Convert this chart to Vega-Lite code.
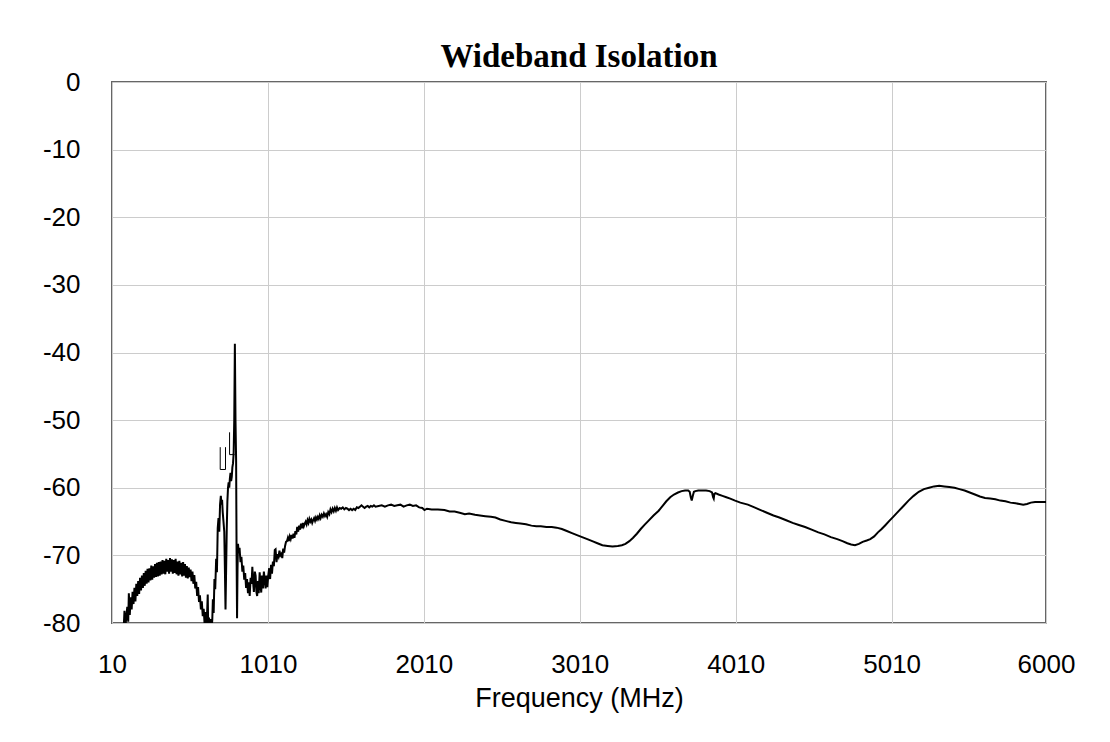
{
  "$schema": "https://vega.github.io/schema/vega-lite/v6.json",
  "width": 934,
  "height": 541,
  "autosize": {"type": "none"},
  "padding": {"left": 112, "top": 82, "right": 64, "bottom": 119},
  "background": "white",
  "title": {
    "text": "Wideband Isolation",
    "font": "Liberation Serif",
    "fontSize": 33,
    "fontWeight": "bold",
    "color": "black",
    "anchor": "middle",
    "frame": "group",
    "baseline": "alphabetic",
    "offset": 4,
    "dy": 35
  },
  "config": {
    "view": {"stroke": "#666666", "strokeWidth": 2},
    "axis": {
      "grid": true,
      "gridColor": "#cccccc",
      "gridWidth": 1,
      "domain": false,
      "ticks": false,
      "tickSize": 0,
      "labelFont": "Liberation Sans",
      "labelFontSize": 26,
      "labelColor": "black",
      "labelExpr": "'' + datum.value",
      "titleFont": "Liberation Sans",
      "titleFontSize": 27,
      "titleFontWeight": "normal",
      "titleColor": "black"
    }
  },
  "datasets": {
    "main": [
      {"f":85,"db":-80.8},{"f":90,"db":-78.2},{"f":96,"db":-80.6},{"f":102,"db":-79.0},{"f":108,"db":-77.6},{"f":114,"db":-79.8},{"f":118,"db":-75.6},{"f":124,"db":-78.8},{"f":130,"db":-76.2},{"f":136,"db":-78.0},{"f":142,"db":-75.4},{"f":148,"db":-77.2},{"f":154,"db":-74.8},{"f":160,"db":-76.8},{"f":166,"db":-74.2},{"f":172,"db":-76.0},{"f":178,"db":-73.8},{"f":184,"db":-75.7},{"f":190,"db":-73.3},{"f":196,"db":-75.2},{"f":202,"db":-73.0},{"f":208,"db":-74.8},{"f":214,"db":-72.6},{"f":220,"db":-74.5},{"f":226,"db":-72.3},{"f":232,"db":-74.2},{"f":238,"db":-72.0},{"f":244,"db":-74.0},{"f":250,"db":-71.9},{"f":256,"db":-73.7},{"f":262,"db":-71.5},{"f":268,"db":-73.6},{"f":274,"db":-71.6},{"f":280,"db":-73.3},{"f":286,"db":-71.3},{"f":292,"db":-73.2},{"f":298,"db":-71.1},{"f":304,"db":-73.1},{"f":310,"db":-71.0},{"f":316,"db":-73.0},{"f":322,"db":-70.9},{"f":328,"db":-72.8},{"f":334,"db":-70.7},{"f":340,"db":-72.7},{"f":346,"db":-70.8},{"f":352,"db":-72.8},{"f":358,"db":-70.5},{"f":364,"db":-72.4},{"f":370,"db":-70.7},{"f":376,"db":-72.7},{"f":382,"db":-70.4},{"f":388,"db":-72.4},{"f":394,"db":-70.6},{"f":400,"db":-72.7},{"f":406,"db":-70.7},{"f":412,"db":-72.6},{"f":418,"db":-70.5},{"f":424,"db":-72.8},{"f":430,"db":-70.9},{"f":436,"db":-73.0},{"f":442,"db":-70.8},{"f":448,"db":-72.8},{"f":454,"db":-71.1},{"f":460,"db":-73.1},{"f":466,"db":-71.0},{"f":472,"db":-73.0},{"f":478,"db":-71.3},{"f":484,"db":-73.3},{"f":490,"db":-71.6},{"f":496,"db":-73.4},{"f":502,"db":-71.8},{"f":508,"db":-73.2},{"f":514,"db":-72.1},{"f":520,"db":-73.8},{"f":526,"db":-72.4},{"f":532,"db":-74.2},{"f":538,"db":-72.9},{"f":544,"db":-74.9},{"f":550,"db":-73.9},{"f":556,"db":-76.0},{"f":562,"db":-74.7},{"f":568,"db":-76.9},{"f":574,"db":-75.9},{"f":580,"db":-78.0},{"f":586,"db":-76.8},{"f":592,"db":-79.0},{"f":598,"db":-77.9},{"f":604,"db":-80.2},{"f":610,"db":-78.4},{"f":616,"db":-80.8},{"f":620,"db":-78.5},{"f":624,"db":-75.8},{"f":627,"db":-80.8},{"f":632,"db":-79.2},{"f":638,"db":-81.0},{"f":642,"db":-79.4},{"f":648,"db":-81.0},{"f":653,"db":-79.6},{"f":657,"db":-76.5},{"f":662,"db":-78.5},{"f":667,"db":-73.5},{"f":672,"db":-75.0},{"f":678,"db":-70.5},{"f":683,"db":-72.5},{"f":688,"db":-66.0},{"f":693,"db":-64.5},{"f":698,"db":-66.5},{"f":703,"db":-62.5},{"f":708,"db":-61.2},{"f":712,"db":-62.5},{"f":716,"db":-61.8},{"f":720,"db":-63.6},{"f":725,"db":-65.0},{"f":730,"db":-66.5},{"f":734,"db":-72.0},{"f":738,"db":-78.0},{"f":742,"db":-72.0},{"f":746,"db":-66.0},{"f":750,"db":-62.0},{"f":754,"db":-60.0},{"f":758,"db":-59.2},{"f":762,"db":-60.0},{"f":766,"db":-58.6},{"f":770,"db":-57.8},{"f":774,"db":-59.0},{"f":778,"db":-58.4},{"f":782,"db":-57.0},{"f":786,"db":-56.4},{"f":790,"db":-55.0},{"f":794,"db":-50.0},{"f":798,"db":-38.7},{"f":802,"db":-50.0},{"f":806,"db":-56.0},{"f":809,"db":-70.0},{"f":812,"db":-79.3},{"f":815,"db":-72.0},{"f":818,"db":-68.3},{"f":823,"db":-69.6},{"f":828,"db":-68.9},{"f":834,"db":-71.0},{"f":840,"db":-70.2},{"f":846,"db":-72.4},{"f":852,"db":-71.5},{"f":858,"db":-73.6},{"f":864,"db":-72.6},{"f":870,"db":-74.8},{"f":876,"db":-73.5},{"f":882,"db":-75.6},{"f":888,"db":-74.0},{"f":893,"db":-76.0},{"f":899,"db":-73.3},{"f":905,"db":-74.2},{"f":910,"db":-71.7},{"f":915,"db":-74.0},{"f":920,"db":-75.4},{"f":926,"db":-72.4},{"f":931,"db":-73.0},{"f":936,"db":-75.4},{"f":941,"db":-76.0},{"f":946,"db":-73.8},{"f":951,"db":-75.6},{"f":957,"db":-72.5},{"f":962,"db":-74.2},{"f":967,"db":-75.5},{"f":972,"db":-73.0},{"f":978,"db":-74.9},{"f":984,"db":-72.4},{"f":989,"db":-73.6},{"f":995,"db":-74.9},{"f":1000,"db":-73.0},{"f":1006,"db":-74.7},{"f":1012,"db":-73.0},{"f":1018,"db":-71.9},{"f":1024,"db":-73.5},{"f":1030,"db":-71.4},{"f":1036,"db":-72.7},{"f":1042,"db":-70.9},{"f":1048,"db":-71.6},{"f":1054,"db":-69.2},{"f":1059,"db":-69.1},{"f":1065,"db":-71.0},{"f":1071,"db":-69.8},{"f":1078,"db":-70.2},{"f":1084,"db":-69.3},{"f":1090,"db":-70.0},{"f":1096,"db":-69.8},{"f":1102,"db":-70.4},{"f":1108,"db":-69.0},{"f":1114,"db":-69.6},{"f":1120,"db":-68.6},{"f":1126,"db":-68.0},{"f":1132,"db":-67.9},{"f":1138,"db":-67.4},{"f":1144,"db":-67.9},{"f":1150,"db":-67.2},{"f":1156,"db":-67.6},{"f":1162,"db":-67.0},{"f":1168,"db":-67.5},{"f":1174,"db":-66.8},{"f":1180,"db":-67.4},{"f":1186,"db":-66.4},{"f":1192,"db":-66.9},{"f":1198,"db":-65.8},{"f":1204,"db":-66.5},{"f":1210,"db":-65.6},{"f":1216,"db":-66.2},{"f":1222,"db":-65.3},{"f":1228,"db":-66.0},{"f":1234,"db":-65.2},{"f":1240,"db":-65.7},{"f":1246,"db":-65.3},{"f":1252,"db":-65.0},{"f":1258,"db":-65.4},{"f":1264,"db":-64.8},{"f":1270,"db":-65.2},{"f":1276,"db":-64.6},{"f":1282,"db":-65.0},{"f":1288,"db":-64.7},{"f":1294,"db":-65.2},{"f":1300,"db":-64.8},{"f":1306,"db":-64.5},{"f":1312,"db":-64.9},{"f":1318,"db":-64.4},{"f":1324,"db":-64.7},{"f":1330,"db":-64.3},{"f":1336,"db":-64.6},{"f":1342,"db":-64.1},{"f":1348,"db":-64.5},{"f":1355,"db":-64.0},{"f":1362,"db":-64.3},{"f":1369,"db":-63.8},{"f":1376,"db":-64.2},{"f":1383,"db":-63.9},{"f":1390,"db":-64.3},{"f":1397,"db":-63.6},{"f":1404,"db":-63.9},{"f":1411,"db":-63.2},{"f":1418,"db":-63.6},{"f":1425,"db":-63.1},{"f":1432,"db":-63.5},{"f":1439,"db":-63.0},{"f":1446,"db":-63.4},{"f":1453,"db":-62.9},{"f":1460,"db":-63.3},{"f":1470,"db":-63.0},{"f":1480,"db":-63.1},{"f":1490,"db":-62.9},{"f":1500,"db":-63.2},{"f":1510,"db":-63.0},{"f":1520,"db":-63.1},{"f":1530,"db":-63.3},{"f":1540,"db":-63.1},{"f":1550,"db":-63.3},{"f":1560,"db":-63.1},{"f":1570,"db":-63.3},{"f":1580,"db":-62.9},{"f":1590,"db":-63.0},{"f":1600,"db":-62.8},{"f":1610,"db":-62.6},{"f":1620,"db":-62.8},{"f":1630,"db":-63.0},{"f":1640,"db":-62.8},{"f":1650,"db":-62.7},{"f":1660,"db":-62.9},{"f":1670,"db":-62.7},{"f":1680,"db":-62.8},{"f":1690,"db":-62.6},{"f":1700,"db":-62.8},{"f":1720,"db":-62.7},{"f":1740,"db":-62.6},{"f":1760,"db":-62.8},{"f":1780,"db":-62.6},{"f":1800,"db":-62.5},{"f":1820,"db":-62.7},{"f":1840,"db":-62.6},{"f":1860,"db":-62.5},{"f":1880,"db":-62.8},{"f":1900,"db":-62.6},{"f":1920,"db":-62.5},{"f":1940,"db":-62.7},{"f":1960,"db":-62.6},{"f":1980,"db":-62.9},{"f":2000,"db":-63.0},{"f":2014,"db":-63.3},{"f":2030,"db":-63.1},{"f":2060,"db":-63.2},{"f":2100,"db":-63.2},{"f":2142,"db":-63.3},{"f":2175,"db":-63.5},
      {"f":2207,"db":-63.5},{"f":2240,"db":-63.7},{"f":2273,"db":-63.9},{"f":2300,"db":-63.8},{"f":2338,"db":-64.0},{"f":2370,"db":-64.1},{"f":2404,"db":-64.2},{"f":2440,"db":-64.3},{"f":2469,"db":-64.4},{"f":2500,"db":-64.7},{"f":2534,"db":-64.9},{"f":2570,"db":-65.1},{"f":2600,"db":-65.2},{"f":2630,"db":-65.3},{"f":2665,"db":-65.4},{"f":2700,"db":-65.6},{"f":2731,"db":-65.7},{"f":2760,"db":-65.7},{"f":2796,"db":-65.8},{"f":2830,"db":-65.8},{"f":2861,"db":-65.9},{"f":2895,"db":-66.1},{"f":2927,"db":-66.4},{"f":2960,"db":-66.7},{"f":2992,"db":-67.0},{"f":3025,"db":-67.3},{"f":3058,"db":-67.6},{"f":3090,"db":-67.9},{"f":3123,"db":-68.2},{"f":3155,"db":-68.5},{"f":3189,"db":-68.6},{"f":3220,"db":-68.7},{"f":3254,"db":-68.6},{"f":3280,"db":-68.5},{"f":3303,"db":-68.3},{"f":3328,"db":-67.9},{"f":3352,"db":-67.4},{"f":3376,"db":-66.8},{"f":3401,"db":-66.1},{"f":3425,"db":-65.5},{"f":3450,"db":-64.9},{"f":3483,"db":-64.1},{"f":3516,"db":-63.4},{"f":3540,"db":-62.7},{"f":3565,"db":-62.0},{"f":3590,"db":-61.4},{"f":3614,"db":-61.0},{"f":3640,"db":-60.7},{"f":3663,"db":-60.5},{"f":3685,"db":-60.4},{"f":3705,"db":-60.4},{"f":3715,"db":-60.6},{"f":3722,"db":-61.4},{"f":3728,"db":-61.9},{"f":3735,"db":-61.2},{"f":3742,"db":-60.6},{"f":3751,"db":-60.5},{"f":3770,"db":-60.4},{"f":3794,"db":-60.4},{"f":3820,"db":-60.4},{"f":3843,"db":-60.5},{"f":3858,"db":-60.7},{"f":3865,"db":-61.4},{"f":3869,"db":-61.6},{"f":3873,"db":-60.9},{"f":3880,"db":-60.8},{"f":3900,"db":-61.0},{"f":3925,"db":-61.2},{"f":3950,"db":-61.4},{"f":3975,"db":-61.6},{"f":4006,"db":-61.9},{"f":4040,"db":-62.2},{"f":4088,"db":-62.5},{"f":4130,"db":-62.9},{"f":4170,"db":-63.3},{"f":4210,"db":-63.7},{"f":4252,"db":-64.1},{"f":4290,"db":-64.4},{"f":4334,"db":-64.8},{"f":4375,"db":-65.2},{"f":4415,"db":-65.5},{"f":4455,"db":-65.8},{"f":4497,"db":-66.2},{"f":4540,"db":-66.6},{"f":4579,"db":-66.9},{"f":4620,"db":-67.3},{"f":4661,"db":-67.6},{"f":4695,"db":-67.9},{"f":4726,"db":-68.2},{"f":4750,"db":-68.4},{"f":4775,"db":-68.5},{"f":4800,"db":-68.3},{"f":4824,"db":-68.0},{"f":4850,"db":-67.8},{"f":4873,"db":-67.6},{"f":4898,"db":-67.2},{"f":4922,"db":-66.6},{"f":4946,"db":-66.1},{"f":4971,"db":-65.5},{"f":4995,"db":-64.9},{"f":5020,"db":-64.3},{"f":5053,"db":-63.5},{"f":5086,"db":-62.7},{"f":5118,"db":-61.9},{"f":5151,"db":-61.2},{"f":5184,"db":-60.6},{"f":5217,"db":-60.2},{"f":5250,"db":-60.0},{"f":5282,"db":-59.8},{"f":5315,"db":-59.7},{"f":5348,"db":-59.8},{"f":5380,"db":-59.9},{"f":5413,"db":-60.0},{"f":5445,"db":-60.2},{"f":5478,"db":-60.4},{"f":5511,"db":-60.7},{"f":5544,"db":-61.0},{"f":5576,"db":-61.3},{"f":5609,"db":-61.5},{"f":5642,"db":-61.6},{"f":5675,"db":-61.7},{"f":5707,"db":-61.9},{"f":5740,"db":-62.0},{"f":5772,"db":-62.2},{"f":5805,"db":-62.3},{"f":5830,"db":-62.4},{"f":5854,"db":-62.5},{"f":5878,"db":-62.4},{"f":5903,"db":-62.2},{"f":5930,"db":-62.1},{"f":5952,"db":-62.1},{"f":5975,"db":-62.1},{"f":6000,"db":-62.1}
    ],
    "marks": [
      {"g":"a","i":1,"f":704,"db":-54.0},{"g":"a","i":2,"f":704,"db":-57.3},{"g":"a","i":3,"f":738,"db":-57.3},{"g":"a","i":4,"f":738,"db":-54.0},
      {"g":"b","i":1,"f":764,"db":-51.8},{"g":"b","i":2,"f":764,"db":-55.1},{"g":"b","i":3,"f":796,"db":-55.1}
    ]
  },
  "layer": [
    {
      "data": {"name": "main"},
      "mark": {"type": "line", "color": "black", "strokeWidth": 2, "clip": true},
      "encoding": {
        "x": {
          "field": "f",
          "type": "quantitative",
          "scale": {"domain": [10, 6000], "nice": false, "zero": false},
          "axis": {"values": [10, 1010, 2010, 3010, 4010, 5010, 6000], "title": "Frequency (MHz)", "labelPadding": 28, "titlePadding": 8, "labelFlush": false}
        },
        "y": {
          "field": "db",
          "type": "quantitative",
          "scale": {"domain": [-80, 0], "nice": false, "zero": false},
          "axis": {"values": [0, -10, -20, -30, -40, -50, -60, -70, -80], "title": null, "labelPadding": 32}
        }
      }
    },
    {
      "data": {"name": "marks"},
      "mark": {"type": "line", "color": "black", "strokeWidth": 1, "clip": true},
      "encoding": {
        "x": {"field": "f", "type": "quantitative"},
        "y": {"field": "db", "type": "quantitative"},
        "detail": {"field": "g"},
        "order": {"field": "i"}
      }
    }
  ]
}
